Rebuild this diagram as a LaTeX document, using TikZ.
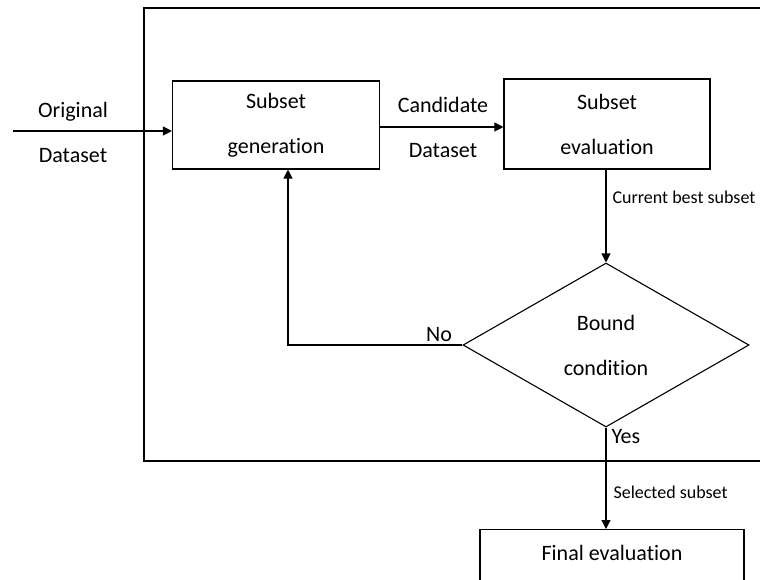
\documentclass[tikz,border=0pt]{standalone}
\usepackage{fontspec}
\setmainfont[Ligatures={NoCommon}]{Carlito}
\usetikzlibrary{arrows.meta,shapes.geometric}
\begin{document}
\begin{tikzpicture}[x=1pt,y=-1pt,
  line width=1.1pt,
  big/.style={font=\fontsize{22}{45}\selectfont},
  small/.style={font=\fontsize{18}{22}\selectfont},
  blockbox/.style={draw,big,align=center,inner sep=0pt},
  flow/.style={-{Triangle[length=9pt,width=9pt]}}]
  \useasboundingbox (0,0) rectangle (760,579);
  \clip (0,0) rectangle (760,579);
  % outer frame of the search loop
  \draw (144,8) rectangle (820,461);
  % blocks
  \node[blockbox,minimum width=207pt,minimum height=88pt] (gen) at (276,125) {Subset\\generation};
  \node[blockbox,minimum width=206pt,minimum height=90pt] (eval) at (607,124) {Subset\\evaluation};
  \node[draw,diamond,big,align=center,inner sep=0pt,aspect=1.744,
        minimum width=286pt,minimum height=164pt] (bound) at (606,345) {Bound\\condition};
  \node[draw,big,minimum width=264pt,minimum height=100pt,anchor=north] (final) at (612,529) {};
  \node[big,inner sep=0pt] (finaltxt) at (612,553) {Final evaluation};
  % connectors
  \coordinate (src) at (13,131);
  \draw[flow] (src) -- (src -| gen.west);
  \draw[flow] (gen.east |- 0,127) -- (eval.west |- 0,127);
  \draw[flow] (eval.south -| bound.north) -- (bound.north);
  \draw[flow] (bound.west) -| ([xshift=12pt]gen.south);
  \draw[flow] (bound.south) -- (bound.south |- final.north);
  % labels
  \node[big,align=center,inner sep=0pt] (orig) at (73,132) {Original\\Dataset};
  \node[big,align=center,inner sep=0pt] (cand) at (443,127) {Candidate\\Dataset};
  \node[small,anchor=west,inner sep=0pt] (cbs) at (612,197) {Current best subset};
  \node[big,inner sep=0pt] (no) at (439,335) {No};
  \node[big,anchor=west,inner sep=0pt] (yes) at (611,437) {Yes};
  \node[small,anchor=west,inner sep=0pt] (sel) at (613,492) {Selected subset};
\end{tikzpicture}
\end{document}
